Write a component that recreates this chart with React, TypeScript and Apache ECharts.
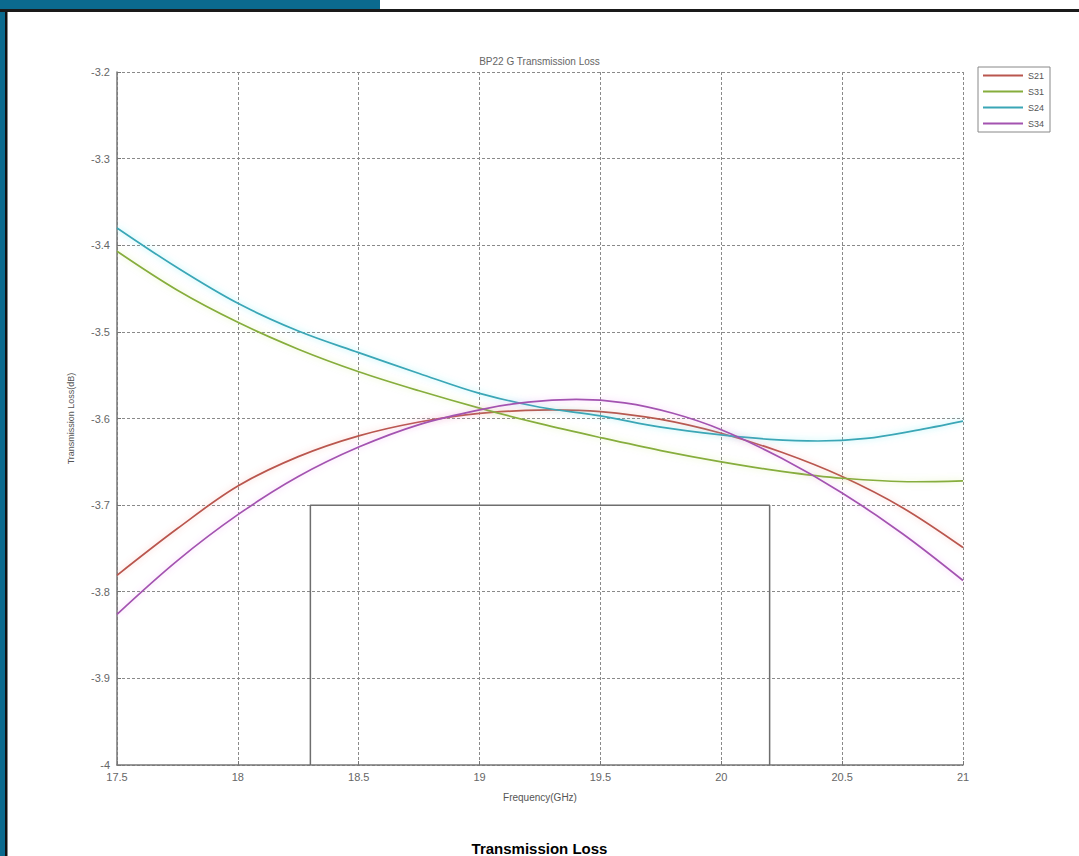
import React, { useEffect, useRef } from "react";
import * as echarts from "echarts";

const freq21 = [17.5, 17.75, 18, 18.25, 18.5, 18.75, 19, 19.3, 19.5, 19.75, 20, 20.25, 20.5, 20.75, 21];
const s21 = [-3.781, -3.727, -3.678, -3.644, -3.62, -3.604, -3.594, -3.59, -3.592, -3.601, -3.617, -3.639, -3.667, -3.703, -3.749];
const freq31 = [17.5, 17.75, 18, 18.25, 18.5, 18.75, 19, 19.25, 19.5, 19.75, 20, 20.25, 20.5, 20.8, 21];
const s31 = [-3.407, -3.452, -3.489, -3.52, -3.546, -3.568, -3.588, -3.606, -3.622, -3.637, -3.65, -3.661, -3.669, -3.673, -3.672];
const freq24 = [17.5, 17.75, 18, 18.25, 18.5, 18.75, 19, 19.25, 19.5, 19.75, 20, 20.2, 20.4, 20.6, 20.8, 21];
const s24 = [-3.38, -3.426, -3.467, -3.499, -3.524, -3.548, -3.571, -3.587, -3.597, -3.61, -3.619, -3.624, -3.626, -3.623, -3.614, -3.603];
const freq34 = [17.5, 17.75, 18, 18.25, 18.5, 18.75, 19, 19.2, 19.4, 19.6, 19.8, 20, 20.25, 20.5, 20.75, 21];
const s34 = [-3.826, -3.764, -3.711, -3.667, -3.633, -3.607, -3.59, -3.581, -3.578, -3.582, -3.594, -3.613, -3.646, -3.686, -3.733, -3.787];
const specX = [18.3, 18.3, 20.2, 20.2];
const specY = [-4, -3.7, -3.7, -4];
const seriesNames = ["S21", "S31", "S24", "S34"];
const seriesColors = ["#b9564e", "#86ad3c", "#3aa6b6", "#a353b0"];
const glowColors = ["rgba(240,140,130,0.45)", "rgba(200,230,110,0.5)", "rgba(90,230,240,0.6)", "rgba(230,130,240,0.45)"];

export default function App() {
  const ref = useRef<HTMLDivElement>(null);
  useEffect(() => {
    if (!ref.current) return;
    const chart = echarts.init(ref.current, null, { renderer: "svg" });
    const font = "'Liberation Sans', Arial, sans-serif";
    const xs = [freq21, freq31, freq24, freq34];
    const ys = [s21, s31, s24, s34];
    const series: any[] = ys.map((vals, i) => ({
      name: seriesNames[i],
      type: "line",
      smooth: 0.35,
      showSymbol: false,
      symbol: "none",
      data: xs[i].map((f, j) => [f, vals[j]]),
      lineStyle: {
        color: seriesColors[i],
        width: 1.7,
        shadowColor: glowColors[i],
        shadowBlur: 6,
      },
      itemStyle: { color: seriesColors[i] },
      z: 3 + i,
    }));
    series.push({
      name: "spec",
      type: "line",
      showSymbol: false,
      symbol: "none",
      data: specX.map((x, j) => [x, specY[j]]),
      lineStyle: { color: "#6e6e6e", width: 1.5 },
      z: 2,
      silent: true,
    });
    const gridLine = { show: true, lineStyle: { color: "#8a8a8a", type: [3, 2], width: 1 } };
    chart.setOption({
      animation: false,
      backgroundColor: "#ffffff",
      title: {
        text: "BP22 G Transmission Loss",
        left: "center",
        top: 51,
        textStyle: { fontSize: 10, color: "#666", fontWeight: "normal", fontFamily: font },
      },
      legend: {
        data: seriesNames,
        orient: "vertical",
        left: 978,
        top: 67,
        icon: "rect",
        itemWidth: 40,
        itemHeight: 2,
        itemGap: 7,
        padding: [4, 6, 4, 5],
        borderColor: "#888",
        borderWidth: 1,
        textStyle: { fontSize: 9, color: "#555", fontFamily: font },
      },
      grid: { left: 117, right: 116, top: 72, bottom: 91 },
      xAxis: {
        type: "value",
        min: 17.5,
        max: 21,
        interval: 0.5,
        name: "Frequency(GHz)",
        nameLocation: "middle",
        nameGap: 27,
        nameTextStyle: { fontSize: 10, color: "#555", fontFamily: font },
        axisLine: { show: true, onZero: false, lineStyle: { color: "#777", width: 1.5 } },
        axisTick: { show: true, inside: true, length: 4, lineStyle: { color: "#777" } },
        axisLabel: { fontSize: 11, color: "#666", margin: 6, fontFamily: font },
        splitLine: gridLine,
      },
      yAxis: {
        type: "value",
        min: -4,
        max: -3.2,
        interval: 0.1,
        name: "Transmission Loss(dB)",
        nameLocation: "middle",
        nameGap: 42,
        nameTextStyle: { fontSize: 9, color: "#555", fontFamily: font },
        axisLine: { show: true, onZero: false, lineStyle: { color: "#777", width: 1.5 } },
        axisTick: { show: true, inside: true, length: 4, lineStyle: { color: "#777" } },
        axisLabel: {
          fontSize: 11,
          color: "#666",
          margin: 7,
          fontFamily: font,
          formatter: (v: number) => String(Math.round(v * 10) / 10),
        },
        splitLine: gridLine,
      },
      graphic: [
        { type: "rect", left: 0, top: 0, shape: { width: 5, height: 856 }, style: { fill: "#0b6a8e" }, z: 100 },
        { type: "rect", left: 5, top: 0, shape: { width: 2.5, height: 856 }, style: { fill: "#111" }, z: 100 },
        { type: "rect", left: 0, top: 0, shape: { width: 380, height: 9 }, style: { fill: "#0b6a8e" }, z: 100 },
        { type: "rect", left: 0, top: 9, shape: { width: 1079, height: 3 }, style: { fill: "#1a1a1a" }, z: 100 },
        {
          type: "text",
          x: 539.5,
          y: 848,
          style: {
            text: "Transmission Loss",
            fill: "#000",
            font: "bold 15px 'Liberation Sans', Arial, sans-serif",
            textAlign: "center",
            textVerticalAlign: "middle",
          },
          z: 100,
        },
      ],
      series,
    });
    return () => chart.dispose();
  }, []);
  return (
    <div
      ref={ref}
      style={{ position: "absolute", left: 0, top: 0, width: 1079, height: 856, background: "#fff" }}
    />
  );
}
